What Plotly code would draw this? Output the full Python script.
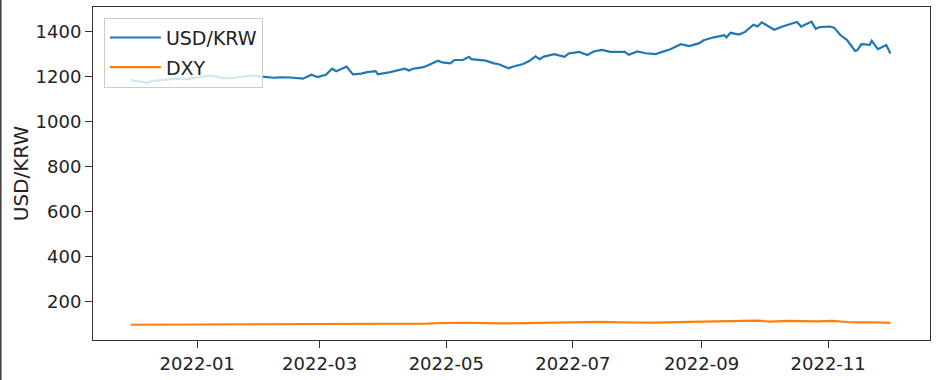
import plotly.graph_objects as go

krw_dates = [
    "2021-11-30", "2021-12-03", "2021-12-08", "2021-12-10", "2021-12-14", "2021-12-17",
    "2021-12-22", "2021-12-27", "2021-12-31", "2022-01-04", "2022-01-07", "2022-01-12",
    "2022-01-14", "2022-01-19", "2022-01-24", "2022-01-27", "2022-02-01", "2022-02-07",
    "2022-02-10", "2022-02-15", "2022-02-21", "2022-02-25", "2022-02-28", "2022-03-04",
    "2022-03-07", "2022-03-09", "2022-03-14", "2022-03-17", "2022-03-21", "2022-03-24",
    "2022-03-28", "2022-03-29", "2022-04-04", "2022-04-11", "2022-04-13", "2022-04-15",
    "2022-04-20", "2022-04-22", "2022-04-27", "2022-04-29", "2022-05-03", "2022-05-05",
    "2022-05-09", "2022-05-12", "2022-05-13", "2022-05-18", "2022-05-20", "2022-05-24",
    "2022-05-26", "2022-05-31", "2022-06-02", "2022-06-07", "2022-06-10", "2022-06-13",
    "2022-06-15", "2022-06-17", "2022-06-22", "2022-06-27", "2022-06-29", "2022-07-04",
    "2022-07-08", "2022-07-11", "2022-07-15", "2022-07-19", "2022-07-26", "2022-07-28",
    "2022-08-01", "2022-08-05", "2022-08-10", "2022-08-12", "2022-08-17", "2022-08-22",
    "2022-08-26", "2022-08-31", "2022-09-02", "2022-09-07", "2022-09-12", "2022-09-13",
    "2022-09-15", "2022-09-19", "2022-09-22", "2022-09-26", "2022-09-28", "2022-09-30",
    "2022-10-06", "2022-10-10", "2022-10-12", "2022-10-17", "2022-10-19", "2022-10-21",
    "2022-10-24", "2022-10-26", "2022-10-28", "2022-11-02", "2022-11-04", "2022-11-07",
    "2022-11-10", "2022-11-14", "2022-11-15", "2022-11-17", "2022-11-21", "2022-11-22",
    "2022-11-25", "2022-11-29", "2022-12-01",
]
krw_values = [
    1185, 1180, 1173, 1181, 1185, 1187,
    1192, 1190, 1196, 1200, 1206, 1198,
    1193, 1196, 1203, 1206, 1201, 1196,
    1198, 1197, 1192, 1209, 1199, 1209,
    1236, 1225, 1246, 1211, 1214, 1221,
    1225, 1211, 1221, 1236, 1228, 1236,
    1243, 1250, 1272, 1264, 1260, 1275,
    1275, 1289, 1279, 1272, 1272, 1260,
    1257, 1238, 1245, 1257, 1270, 1291,
    1279, 1290, 1301, 1289, 1304, 1311,
    1297, 1313, 1320, 1311, 1311, 1298,
    1313, 1305, 1301, 1308, 1323, 1345,
    1337, 1350, 1363, 1376, 1385, 1376,
    1396, 1388, 1400, 1432, 1424, 1443,
    1410, 1424, 1430, 1444, 1424, 1432,
    1446, 1414, 1422, 1424, 1418, 1385,
    1365, 1315, 1318, 1345, 1342, 1360,
    1323, 1342, 1304,
]

dxy_dates = [
    "2021-11-30", "2021-12-15", "2021-12-31", "2022-01-14", "2022-01-28", "2022-02-11",
    "2022-02-25", "2022-03-07", "2022-03-14", "2022-03-25", "2022-04-08", "2022-04-22",
    "2022-04-28", "2022-05-12", "2022-05-27", "2022-06-10", "2022-06-15", "2022-06-24",
    "2022-07-14", "2022-07-29", "2022-08-10", "2022-08-26", "2022-09-07", "2022-09-28",
    "2022-10-04", "2022-10-13", "2022-10-27", "2022-11-03", "2022-11-10", "2022-11-15",
    "2022-11-22", "2022-12-01",
]
dxy_values = [
    96.0, 96.5, 95.7, 95.2, 97.3, 96.0,
    96.6, 99.0, 99.1, 98.8, 99.8, 101.1,
    103.6, 104.9, 101.7, 104.2, 105.0, 104.2,
    108.5, 105.9, 105.2, 108.8, 110.0, 114.1,
    110.2, 113.0, 110.6, 112.9, 108.1, 106.3,
    107.1, 104.7,
]

x_tick_vals = ["2022-01-01", "2022-03-01", "2022-05-01", "2022-07-01", "2022-09-01", "2022-11-01"]
x_tick_text = ["2022-01", "2022-03", "2022-05", "2022-07", "2022-09", "2022-11"]
y_tick_vals = [200, 400, 600, 800, 1000, 1200, 1400]

FONT = "DejaVu Sans"
AX = "#333333"
TXT = "#222222"

fig = go.Figure()
fig.add_trace(go.Scatter(x=krw_dates, y=krw_values, mode="lines", name="USD/KRW",
                         legendgroup="a", line=dict(color="#1f77b4", width=2.2)))
fig.add_trace(go.Scatter(x=dxy_dates, y=dxy_values, mode="lines", name="DXY",
                         legendgroup="b", line=dict(color="#ff7f0e", width=2.2)))

fig.update_layout(
    width=937, height=380,
    margin=dict(l=93, r=6, t=6, b=33),
    paper_bgcolor="white", plot_bgcolor="white",
    font=dict(family=FONT, size=18, color=TXT),
    showlegend=True,
    legend=dict(x=0.013, y=0.968, xanchor="left", yanchor="top",
                itemwidth=51, tracegroupgap=2,
                bgcolor="rgba(255,255,255,0.8)", bordercolor="#cccccc", borderwidth=1,
                font=dict(family=FONT, size=19, color=TXT)),
    xaxis=dict(
        type="date",
        range=["2021-11-11 19:00", "2022-12-20 02:00"],
        tickmode="array", tickvals=x_tick_vals, ticktext=x_tick_text,
        showgrid=False, zeroline=False,
        showline=True, linecolor=AX, linewidth=1, mirror=True,
        ticks="outside", ticklen=7, tickcolor=AX, tickwidth=1,
        tickfont=dict(family=FONT, size=18, color=TXT),
    ),
    yaxis=dict(
        range=[28, 1511],
        tickmode="array", tickvals=y_tick_vals,
        showgrid=False, zeroline=False,
        showline=True, linecolor=AX, linewidth=1, mirror=True,
        ticks="outside", ticklen=7, tickcolor=AX, tickwidth=1,
        tickfont=dict(family=FONT, size=18, color=TXT),
        title=dict(text="USD/KRW", font=dict(family=FONT, size=20, color=TXT), standoff=1),
    ),
    shapes=[dict(type="line", xref="paper", yref="paper",
                 x0=-0.1104, x1=-0.1104, y0=-0.12, y1=1.03,
                 line=dict(color="#444444", width=2))],
)

fig.write_html("out.html")
